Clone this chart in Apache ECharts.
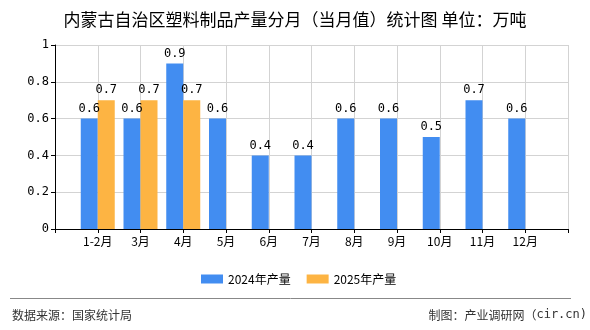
<!DOCTYPE html>
<html><head><meta charset="utf-8">
<script src="https://cdn.jsdelivr.net/npm/echarts@6/dist/echarts.min.js"></script>
<style>html,body{margin:0;padding:0;background:#fff}#c{width:590px;height:330px}</style>
</head><body><div id="c"></div>
<script>
const categories = ['', '1-2月', '3月', '4月', '5月', '6月', '7月', '8月', '9月', '10月', '11月', '12月', ''];
const series2024 = ['-', 0.6, 0.6, 0.9, 0.6, 0.4, 0.4, 0.6, 0.6, 0.5, 0.7, 0.6, '-'];
const series2025 = ['-', 0.7, 0.7, 0.7, '-', '-', '-', '-', '-', '-', '-', '-', '-'];
const yTicks = [0, 0.2, 0.4, 0.6, 0.8, 1];

const chart = echarts.init(document.getElementById('c'));
const mono = 'DejaVu Sans Mono';
const cjk = 'Noto Sans CJK SC';
const labelCfg = {show: true, position: 'top', color: '#000', fontFamily: mono, fontSize: 12, distance: 4};
chart.setOption({
  animation: false,
  title: {text: '内蒙古自治区塑料制品产量分月（当月值）统计图 单位：万吨', left: 'center', top: 6,
    textStyle: {fontSize: 17, fontWeight: 'normal', color: '#000', fontFamily: cjk}},
  legend: {left: 196, top: 268, icon: 'rect', itemWidth: 22, itemHeight: 9, itemGap: 16,
    textStyle: {fontSize: 12, color: '#000', fontFamily: cjk}},
  grid: {left: 55, right: 22, top: 45, bottom: 101},
  xAxis: {type: 'category', data: categories, boundaryGap: false,
    axisLine: {lineStyle: {color: '#000'}},
    axisTick: {lineStyle: {color: '#000'}, length: 4},
    axisLabel: {color: '#000', fontFamily: cjk, fontSize: 12, margin: 6, interval: 0},
    splitLine: {show: true, lineStyle: {color: '#d3d3d3'}}},
  yAxis: {type: 'value', min: yTicks[0], max: yTicks[yTicks.length - 1], interval: 0.2,
    axisLine: {show: true, lineStyle: {color: '#000'}},
    axisTick: {show: true, lineStyle: {color: '#000'}, length: 4},
    axisLabel: {color: '#000', fontFamily: mono, fontSize: 12, margin: 6},
    splitLine: {lineStyle: {color: '#d3d3d3'}}},
  series: [
    {name: '2024年产量', type: 'bar', data: series2024, barWidth: 17, barGap: '0%',
      itemStyle: {color: '#428DF1'}, label: labelCfg},
    {name: '2025年产量', type: 'bar', data: series2025, barWidth: 17, barGap: '0%',
      itemStyle: {color: '#FDB443'}, label: labelCfg}
  ],
  graphic: [
    {type: 'line', shape: {x1: 10, y1: 298.5, x2: 571, y2: 298.5}, style: {stroke: '#888', lineWidth: 1}},
    {type: 'text', left: 12, top: 309, style: {text: '数据来源：国家统计局', fontSize: 12, fill: '#333', fontFamily: cjk}},
    {type: 'text', right: 3, top: 309, style: {text: '{a|制图：产业调研网（}{b|cir.cn)}',
      rich: {a: {fontSize: 12, fill: '#333', color: '#333', fontFamily: cjk},
             b: {fontSize: 12, fill: '#333', color: '#333', fontFamily: mono}}}}
  ]
});
</script></body></html>
